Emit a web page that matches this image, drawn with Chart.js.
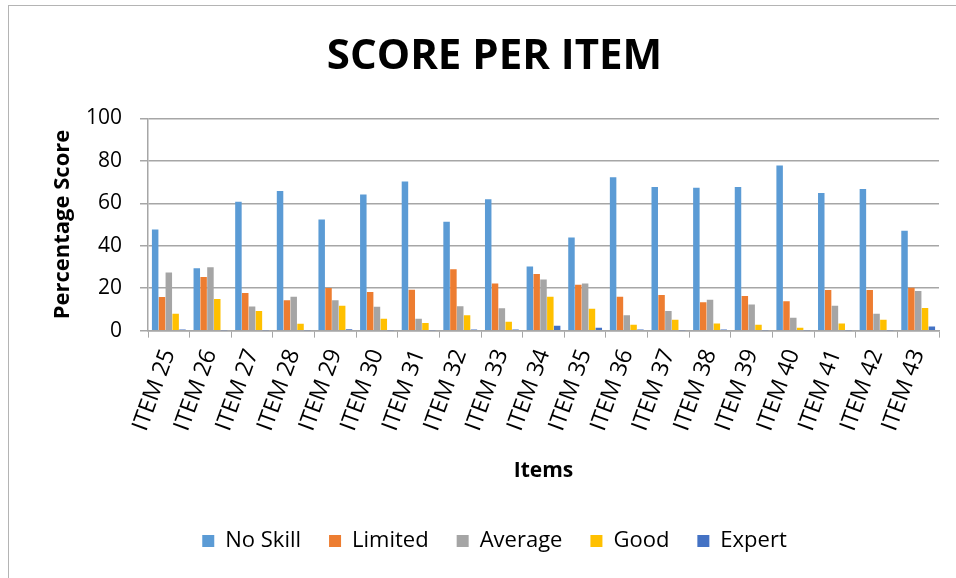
<!DOCTYPE html>
<html>
<head>
<meta charset="utf-8">
<script src="https://cdn.jsdelivr.net/npm/chart.js@4/dist/chart.umd.min.js"></script>
<style>
  body { margin: 0; background: #fff; }
  #wrap { position: relative; width: 956px; height: 578px; }
  #frame { position: absolute; left: 8px; top: 5px; right: -2px; bottom: -2px; border-left: 1px solid #b4b4b4; border-top: 1px solid #b4b4b4; }
  canvas { position: absolute; left: 0; top: 0; }
</style>
</head>
<body>
<div id="wrap">
  <div id="frame"></div>
  <canvas id="chart" width="956" height="578"></canvas>
</div>
<script>
// values
const items = ['ITEM 25','ITEM 26','ITEM 27','ITEM 28','ITEM 29','ITEM 30','ITEM 31','ITEM 32','ITEM 33','ITEM 34',
               'ITEM 35','ITEM 36','ITEM 37','ITEM 38','ITEM 39','ITEM 40','ITEM 41','ITEM 42','ITEM 43'];
const noSkill  = [47.6, 29.4, 60.7, 65.8, 52.4, 64.1, 70.3, 51.3, 61.9, 30.2, 43.9, 72.3, 67.7, 67.3, 67.7, 77.8, 64.9, 66.7, 47.1];
const limited  = [15.9, 25.3, 17.7, 14.3, 20.1, 18.2, 19.3, 28.9, 22.2, 26.7, 21.6, 16.0, 16.8, 13.4, 16.3, 13.8, 19.1, 19.1, 20.2];
const average  = [27.4, 29.9, 11.4, 16.0, 14.3, 11.2,  5.6, 11.5, 10.6, 24.1, 22.2,  7.3,  9.3, 14.5, 12.3,  6.1, 11.7,  7.9, 18.7];
const good     = [ 7.9, 14.9,  9.3,  3.3, 11.7,  5.6,  3.6,  7.2,  4.2, 16.0, 10.3,  2.8,  5.1,  3.4,  2.8,  1.4,  3.4,  5.1, 10.7];
const expert   = [ 0.5,  0.2,  0.2,  0.2,  0.6,  0.2,  0.2,  0.5,  0.5,  2.3,  1.4,  0.5,  0.2,  0.5,  0.2,  0.2,  0.2,  0.2,  1.9];
const yTicks = [0, 20, 40, 60, 80, 100];

const font = "'Open Sans', sans-serif";

function ds(label, data, color) {
    return { label: label, data: data, backgroundColor: color, borderWidth: 0,
             barPercentage: 0.95, categoryPercentage: 0.82 };
}

let myChart = document.getElementById('chart').getContext('2d');
let scoreChart = new Chart(myChart, {
    type: 'bar',
    data: {
        labels: items,
        datasets: [
            ds('No Skill', noSkill, '#5b9bd5'),
            ds('Limited', limited, '#ed7d31'),
            ds('Average', average, '#a5a5a5'),
            ds('Good', good, '#ffc000'),
            ds('Expert', expert, '#4472c4')
        ]
    },
    options: {
        responsive: false,
        animation: false,
        layout: { padding: { left: 50, right: 17, top: 8, bottom: 16 } },
        plugins: {
            title: {
                display: true, text: 'SCORE PER ITEM', color: '#000',
                font: { family: font, size: 42, weight: 'bold' },
                padding: { top: 24, bottom: 36 }
            },
            legend: {
                position: 'bottom',
                labels: { color: '#000', font: { family: font, size: 22 }, boxWidth: 12, boxHeight: 12, padding: 28 }
            },
            tooltip: { enabled: false }
        },
        scales: {
            x: {
                afterFit: s => { s.paddingLeft = 0; },
                grid: { offset: true, drawOnChartArea: false, color: '#a6a6a6', tickLength: 7 },
                border: { color: '#a6a6a6', width: 1.5 },
                ticks: { color: '#000', font: { family: font, size: 23 }, minRotation: 70, maxRotation: 70, padding: 8 },
                title: { display: true, text: 'Items', color: '#000', font: { family: font, size: 21, weight: 'bold' }, padding: { top: 16, bottom: 18 } }
            },
            y: {
                min: 0, max: 100,
                afterFit: s => { s.width = 98; },
                afterBuildTicks: axis => { axis.ticks = yTicks.map(v => ({ value: v })); },
                grid: { color: '#a6a6a6', lineWidth: 1.5, tickLength: 8 },
                border: { color: '#a6a6a6', width: 1.5 },
                ticks: { color: '#000', font: { family: font, size: 21 }, padding: 18 },
                title: { display: true, text: 'Percentage Score', color: '#000', font: { family: font, size: 22, weight: 'bold' }, padding: { top: 0, bottom: 4 } }
            }
        }
    }
});
</script>
</body>
</html>
